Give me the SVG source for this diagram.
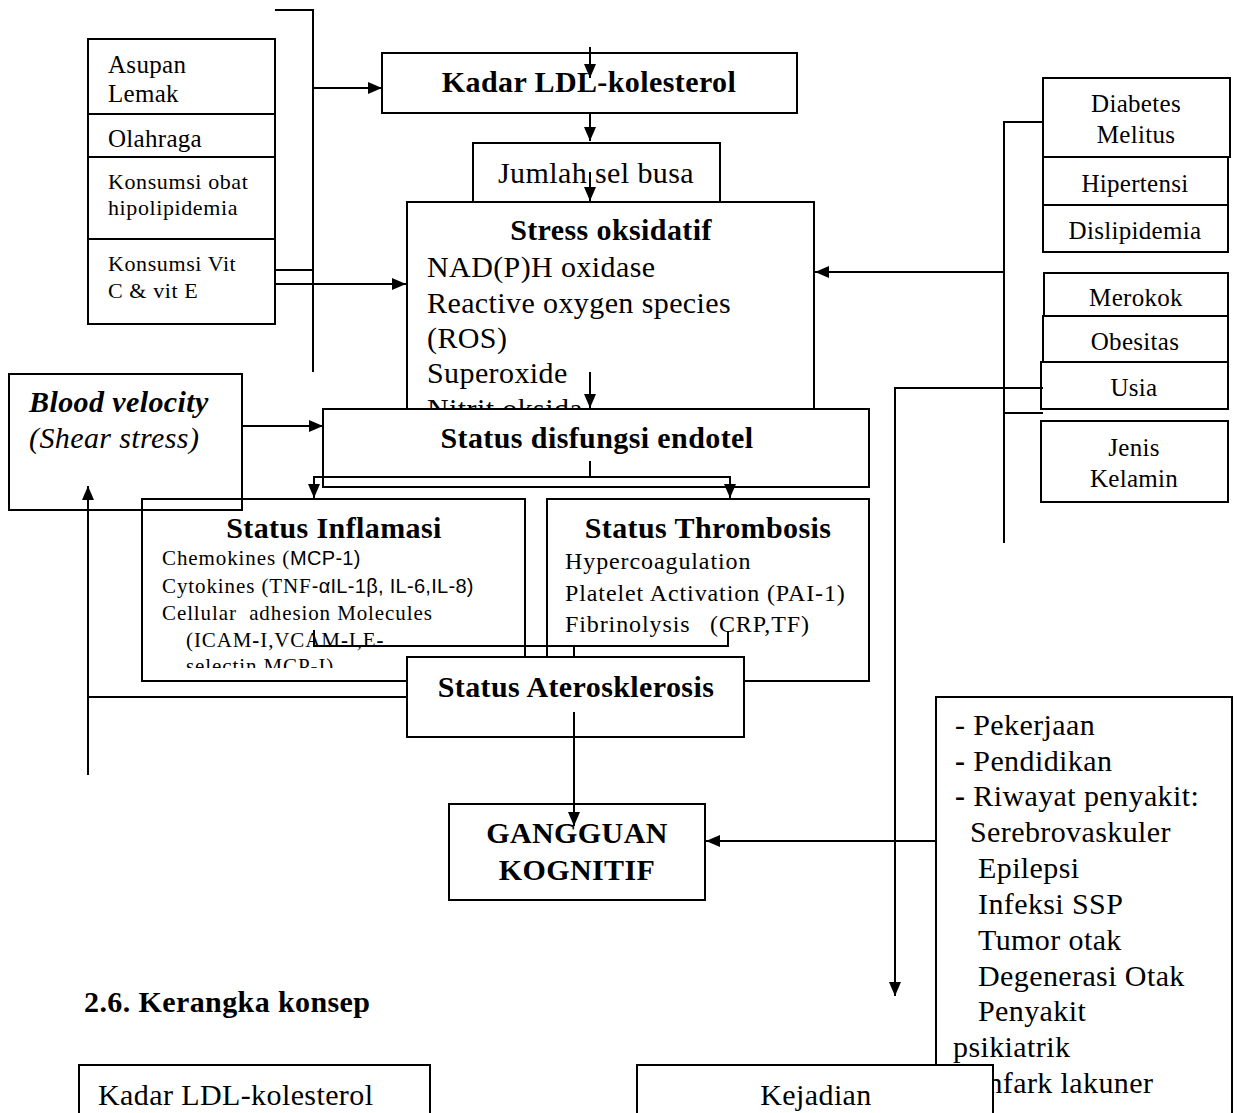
<svg xmlns="http://www.w3.org/2000/svg" width="1237" height="1113" viewBox="0 0 1237 1113">
<style>
.box{fill:none;stroke:#000;stroke-width:2}
.wbox{fill:#fff;stroke:#000;stroke-width:2}
.ln{fill:none;stroke:#000;stroke-width:2}
.ar{fill:none;stroke:#000;stroke-width:2;marker-end:url(#ah)}
text{font-family:"Liberation Serif","Times New Roman",serif;fill:#000}
.f30{font-size:30px;letter-spacing:0.4px}
.f25{font-size:25px;letter-spacing:0.3px}
.f24{font-size:24px;letter-spacing:0.9px}
.f22{font-size:22px;letter-spacing:0.6px}
.f21{font-size:21px;letter-spacing:0.9px}
.bd{font-weight:bold}
.mid{text-anchor:middle}
.sans{font-family:"Liberation Sans",Arial,sans-serif;font-size:20px;letter-spacing:0.3px}
</style>
<defs>
<marker id="ah" markerWidth="14" markerHeight="12" refX="14" refY="6" orient="auto" markerUnits="userSpaceOnUse">
<path d="M0,0 L14,6 L0,12 z" fill="#000"/>
</marker>
<clipPath id="clipInf"><rect x="142" y="540" width="383" height="128"/></clipPath>
<clipPath id="clipStress"><rect x="407" y="202" width="407" height="207"/></clipPath>
</defs>
<rect width="1237" height="1113" fill="#fff"/>

<g id="faktor-kiri">
<rect class="box" x="88" y="39" width="187" height="285"/>
<line class="ln" x1="88" y1="114" x2="275" y2="114"/>
<line class="ln" x1="88" y1="157" x2="275" y2="157"/>
<line class="ln" x1="88" y1="239" x2="275" y2="239"/>
<text class="f25" x="108" y="73">Asupan</text>
<text class="f25" x="108" y="102">Lemak</text>
<text class="f25" x="108" y="147">Olahraga</text>
<text class="f22" x="108" y="189">Konsumsi obat</text>
<text class="f22" x="108" y="215">hipolipidemia</text>
<text class="f22" x="108" y="271">Konsumsi Vit</text>
<text class="f22" x="108" y="298">C &amp; vit E</text>
</g>

<g id="stress">
<rect class="wbox" x="407" y="202" width="407" height="230"/>
<text class="f30 bd mid" x="611" y="240">Stress oksidatif</text>
<g clip-path="url(#clipStress)">
<text class="f30" x="427" y="277">NAD(P)H oxidase</text>
<text class="f30" x="427" y="313">Reactive oxygen species</text>
<text class="f30" x="427" y="348">(ROS)</text>
<text class="f30" x="427" y="383">Superoxide</text>
<text class="f30" x="427" y="419">Nitrit oksida</text>
</g>
</g>

<g id="kadar-ldl">
<rect class="box" x="382" y="53" width="415" height="60"/>
<text class="f30 bd mid" x="589" y="92">Kadar LDL-kolesterol</text>
</g>

<g id="sel-busa">
<rect class="box" x="473" y="143" width="247" height="59"/>
<text class="f30 mid" x="596" y="183">Jumlah sel busa</text>
</g>

<g id="faktor-kanan">
<rect class="box" x="1043" y="78" width="187" height="79"/>
<text class="f25 mid" x="1136" y="112">Diabetes</text>
<text class="f25 mid" x="1136" y="143">Melitus</text>
<rect class="box" x="1043" y="157" width="185" height="48"/>
<text class="f25 mid" x="1135" y="192">Hipertensi</text>
<rect class="box" x="1043" y="205" width="185" height="47"/>
<text class="f25 mid" x="1135" y="239">Dislipidemia</text>
<rect class="box" x="1044" y="273" width="184" height="43"/>
<text class="f25 mid" x="1136" y="306">Merokok</text>
<rect class="box" x="1043" y="316" width="185" height="46"/>
<text class="f25 mid" x="1135" y="350">Obesitas</text>
<rect class="box" x="1041" y="362" width="187" height="47"/>
<text class="f25 mid" x="1134" y="396">Usia</text>
<rect class="box" x="1041" y="421" width="187" height="81"/>
<text class="f25 mid" x="1134" y="456">Jenis</text>
<text class="f25 mid" x="1134" y="487">Kelamin</text>
</g>

<g id="blood-velocity">
<rect class="box" x="9" y="374" width="233" height="136"/>
<text class="f30 bd" font-style="italic" x="29" y="412">Blood velocity</text>
<text class="f30" font-style="italic" x="29" y="448">(Shear stress)</text>
</g>

<g id="endotel">
<rect class="wbox" x="323" y="409" width="546" height="78"/>
<text class="f30 bd mid" x="597" y="448">Status disfungsi endotel</text>
</g>

<g id="inflamasi">
<rect class="box" x="142" y="499" width="383" height="182"/>
<text class="f30 bd mid" x="334" y="538">Status Inflamasi</text>
<g clip-path="url(#clipInf)">
<text class="f21" x="162" y="565">Chemokines (<tspan class="sans">MCP-1)</tspan></text>
<text class="f21" x="162" y="593">Cytokines (TNF<tspan class="sans">-αIL-1β, IL-6,IL-8)</tspan></text>
<text class="f21" x="162" y="620" xml:space="preserve" style="white-space:pre">Cellular  adhesion Molecules</text>
<text class="f21" x="186" y="647">(ICAM<tspan font-weight="bold">-</tspan>I,VCAM<tspan font-weight="bold">-</tspan>I,E<tspan font-weight="bold">-</tspan></text>
<text class="f21" x="186" y="673">selectin MCP<tspan font-weight="bold">-</tspan>I)</text>
</g>
</g>

<g id="thrombosis">
<rect class="box" x="547" y="499" width="322" height="182"/>
<text class="f30 bd mid" x="708" y="538">Status Thrombosis</text>
<text class="f24" x="565" y="569">Hypercoagulation</text>
<text class="f24" x="565" y="601">Platelet Activation (PAI-1)</text>
<text class="f24" x="565" y="632">Fibrinolysis</text>
<text class="f24" x="710" y="632">(CRP,TF)</text>
</g>

<g id="aterosklerosis">
<rect class="wbox" x="407" y="657" width="337" height="80"/>
<text class="f30 bd mid" x="576" y="697">Status Aterosklerosis</text>
</g>

<g id="gangguan-kognitif">
<rect class="box" x="449" y="804" width="256" height="96"/>
<text class="f30 bd mid" x="577" y="843">GANGGUAN</text>
<text class="f30 bd mid" x="577" y="880">KOGNITIF</text>
</g>

<g id="faktor-lain">
<rect class="box" x="936" y="697" width="296" height="430"/>
<text class="f30" x="955" y="735">- Pekerjaan</text>
<text class="f30" x="955" y="771"><tspan font-weight="bold">-</tspan> Pendidikan</text>
<text class="f30" x="955" y="806"><tspan font-weight="bold">-</tspan> Riwayat penyakit:</text>
<text class="f30" x="970" y="842">Serebrovaskuler</text>
<text class="f30" x="978" y="878">Epilepsi</text>
<text class="f30" x="978" y="914">Infeksi SSP</text>
<text class="f30" x="978" y="950">Tumor otak</text>
<text class="f30" x="978" y="986">Degenerasi Otak</text>
<text class="f30" x="978" y="1021">Penyakit</text>
<text class="f30" x="953" y="1057">psikiatrik</text>
<text class="f30" x="977" y="1093">Infark lakuner</text>
</g>

<g id="judul">
<text class="f30 bd" x="84" y="1012">2.6. Kerangka konsep</text>
</g>

<g id="konsep-ldl">
<rect class="wbox" x="79" y="1065" width="351" height="60"/>
<text class="f30" x="98" y="1105">Kadar LDL-kolesterol</text>
</g>

<g id="konsep-kejadian">
<rect class="wbox" x="637" y="1065" width="356" height="60"/>
<text class="f30 mid" x="816" y="1105">Kejadian</text>
</g>

<g id="connectors">
<polyline class="ln" points="275,10 313,10 313,372"/>
<line class="ar" x1="313" y1="88" x2="382" y2="88"/>
<line class="ln" x1="275" y1="270" x2="313" y2="270"/>
<line class="ar" x1="275" y1="284" x2="406" y2="284"/>
<line class="ar" x1="590" y1="47" x2="590" y2="78"/>
<line class="ar" x1="590" y1="113" x2="590" y2="141"/>
<line class="ar" x1="590" y1="172" x2="590" y2="201"/>
<line class="ar" x1="590" y1="372" x2="590" y2="408"/>
<polyline class="ln" points="1043,122 1004,122 1004,543"/>
<line class="ar" x1="1004" y1="272" x2="815" y2="272"/>
<polyline class="ar" points="1043,388 895,388 895,996"/>
<line class="ln" x1="1004" y1="413" x2="1043" y2="413"/>
<line class="ar" x1="242" y1="426" x2="323" y2="426"/>
<line class="ln" x1="590" y1="461" x2="590" y2="477"/>
<polyline class="ar" points="590,477 314,477 314,498"/>
<polyline class="ar" points="590,477 730,477 730,498"/>
<polyline class="ln" points="314,630 314,646 728,646 728,632"/>
<line class="ln" x1="574" y1="646" x2="574" y2="657"/>
<line class="ar" x1="574" y1="712" x2="574" y2="826"/>
<line class="ln" x1="407" y1="697" x2="88" y2="697"/>
<line class="ar" x1="88" y1="775" x2="88" y2="486"/>
<line class="ar" x1="936" y1="841" x2="706" y2="841"/>
</g>
</svg>
